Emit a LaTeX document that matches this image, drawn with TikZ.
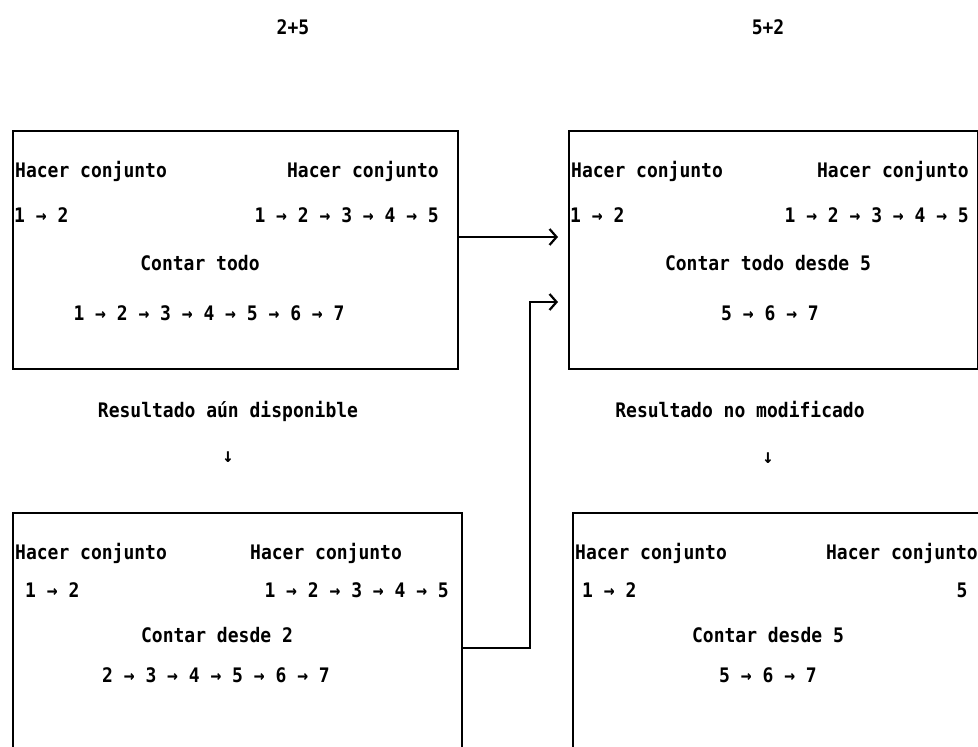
\documentclass[tikz,border=0pt]{standalone}
\usepackage{fontspec}
\setmainfont{DejaVu Sans Mono}
\newfontfamily\dotfont{DejaVu Sans Mono}[FakeStretch=0.9]
\usetikzlibrary{arrows.meta}
\begin{document}
\begin{tikzpicture}[x=1pt,y=-1pt,
  box/.style={draw, line width=2.2pt, rectangle, inner sep=0pt},
  txt/.style={inner sep=0pt, font=\dotfont\bfseries\fontsize{20}{22}\selectfont},
  conn/.style={line width=2.2pt, -{Straight Barb[length=7pt,width=16pt]}, shorten >=10pt}]
\useasboundingbox (0,0) rectangle (978,747);
% boxes
\node[box, anchor=north west, minimum width=445pt, minimum height=238pt] (tl) at (12,130) {};
\node[box, anchor=north west, minimum width=409pt, minimum height=238pt] (tr) at (568,130) {};
\node[box, anchor=north west, minimum width=449pt, minimum height=300pt] (bl) at (12,512) {};
\node[box, anchor=north west, minimum width=440pt, minimum height=300pt] (br) at (572,512) {};
% headings
\node[txt, anchor=base] (h1) at (293,34) {2+5};
\node[txt, anchor=base] (h2) at (768,34) {5+2};
% top left box
\node[txt, anchor=base west] (tl1) at (15,177) {Hacer conjunto};
\node[txt, anchor=base east] (tl2) at (439,177) {Hacer conjunto};
\node[txt, anchor=base west] (tl3) at (14,222) {1 → 2};
\node[txt, anchor=base east] (tl4) at (439,222) {1 → 2 → 3 → 4 → 5};
\node[txt, anchor=base] (tl5) at (200,270) {Contar todo};
\node[txt, anchor=base] (tl6) at (209,320) {1 → 2 → 3 → 4 → 5 → 6 → 7};
% top right box
\node[txt, anchor=base west] (tr1) at (571,177) {Hacer conjunto};
\node[txt, anchor=base east] (tr2) at (969,177) {Hacer conjunto};
\node[txt, anchor=base west] (tr3) at (570,222) {1 → 2};
\node[txt, anchor=base east] (tr4) at (969,222) {1 → 2 → 3 → 4 → 5};
\node[txt, anchor=base] (tr5) at (768,270) {Contar todo desde 5};
\node[txt, anchor=base] (tr6) at (770,320) {5 → 6 → 7};
% middle labels
\node[txt, anchor=base] (m1) at (228,417) {Resultado aún disponible};
\node[txt] (d1) at (228,457) {↓};
\node[txt, anchor=base] (m2) at (740,417) {Resultado no modificado};
\node[txt] (d2) at (768,458) {↓};
% bottom left box
\node[txt, anchor=base west] (bl1) at (15,559) {Hacer conjunto};
\node[txt, anchor=base west] (bl2) at (250,559) {Hacer conjunto};
\node[txt, anchor=base west] (bl3) at (25,597) {1 → 2};
\node[txt, anchor=base east] (bl4) at (449,597) {1 → 2 → 3 → 4 → 5};
\node[txt, anchor=base] (bl5) at (217,642) {Contar desde 2};
\node[txt, anchor=base] (bl6) at (216,682) {2 → 3 → 4 → 5 → 6 → 7};
% bottom right box
\node[txt, anchor=base west] (br1) at (575,559) {Hacer conjunto};
\node[txt, anchor=base east] (br2) at (978,559) {Hacer conjunto};
\node[txt, anchor=base west] (br3) at (582,597) {1 → 2};
\node[txt, anchor=base] (br4) at (962,597) {5};
\node[txt, anchor=base] (br5) at (768,642) {Contar desde 5};
\node[txt, anchor=base] (br6) at (768,682) {5 → 6 → 7};
% connectors
\coordinate (ya) at (0,237);
\coordinate (yb) at (0,648);
\coordinate (yc) at (0,302);
\coordinate (xc) at (530,0);
\draw[conn] (tl.east |- ya) -- (tr.west |- ya);
\draw[conn] (bl.east |- yb) -| (xc |- yc) -- (tr.west |- yc);
\end{tikzpicture}
\end{document}
